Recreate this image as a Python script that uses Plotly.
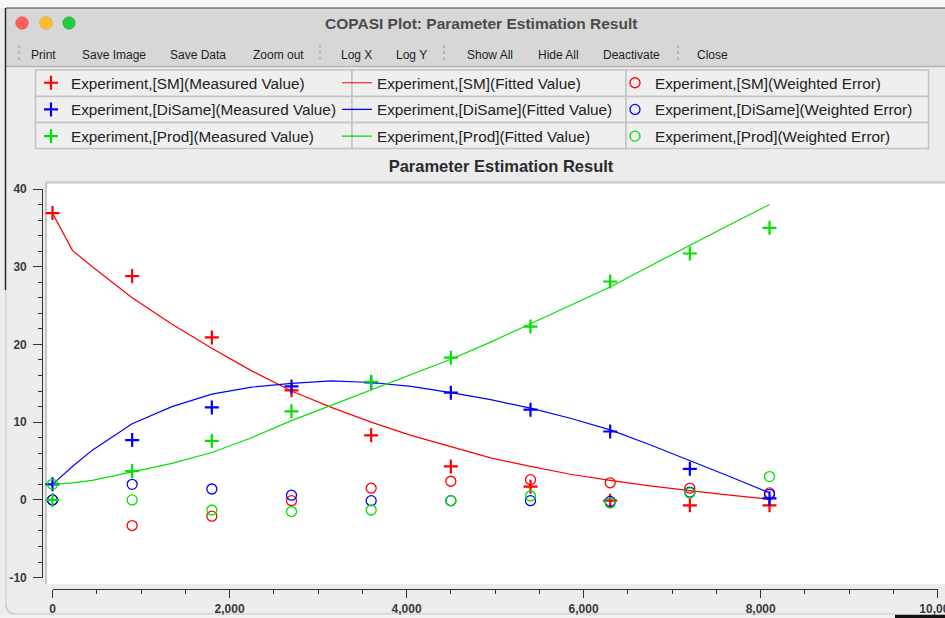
import plotly.graph_objects as go

# ---- experiment data (time in s) ----
time_points = [0, 900, 1800, 2700, 3600, 4500, 5400, 6300, 7200, 8100]

species = ["SM", "DiSame", "Prod"]
series_colors = {"SM": "rgb(255,0,0)", "DiSame": "rgb(0,0,255)", "Prod": "rgb(0,225,0)"}

measured_sm = [36.9, 28.8, 20.9, 14.1, 8.3, 4.3, 1.7, -0.1, -0.7, -0.7]
measured_disame = [2.0, 7.7, 11.9, 14.6, 15.1, 13.8, 11.6, 8.8, 4.0, 0.2]
measured_prod = [0.0, 3.7, 7.6, 11.4, 15.2, 18.3, 22.3, 28.1, 31.7, 35.0]

# simulated trajectory of the fitted model
fit_time = [0, 225, 450, 900, 1350, 1800, 2250, 2700, 3150, 3600, 4050,
            4500, 4950, 5400, 5850, 6300, 6750, 7200, 7650, 8100]
fitted_sm = [36.9, 32.1, 30.0, 26.0, 22.6, 19.5, 16.6, 14.0, 11.9, 10.0, 8.3,
             6.8, 5.4, 4.3, 3.3, 2.5, 1.8, 1.2, 0.6, 0.1]
fitted_disame = [2.0, 4.3, 6.4, 9.8, 12.0, 13.6, 14.5, 15.0, 15.3, 15.1, 14.6,
                 13.8, 12.9, 11.8, 10.5, 9.0, 7.1, 5.1, 3.0, 0.9]
fitted_prod = [2.0, 2.2, 2.5, 3.6, 4.7, 6.1, 8.0, 10.2, 12.2, 14.2, 16.1,
               18.1, 20.3, 22.7, 25.0, 27.4, 30.1, 32.8, 35.4, 38.0]

# weighted residuals
error_sm = [0.0, -3.3, -2.1, -0.1, 1.5, 2.4, 2.6, 2.2, 1.5, 0.9]
error_disame = [0.0, 2.0, 1.4, 0.6, -0.1, -0.1, -0.1, -0.2, 1.0, 0.7]
error_prod = [2.0, 0.0, -1.3, -1.5, -1.3, -0.1, 0.5, -0.4, 0.9, 3.0]

measured = {"SM": measured_sm, "DiSame": measured_disame, "Prod": measured_prod}
fitted = {"SM": fitted_sm, "DiSame": fitted_disame, "Prod": fitted_prod}
errors = {"SM": error_sm, "DiSame": error_disame, "Prod": error_prod}

y_tick_vals = [-10, 0, 10, 20, 30, 40]
y_tick_text = ["-10", "0", "10", "20", "30", "40"]

window_title = "COPASI Plot: Parameter Estimation Result"
plot_title = "Parameter Estimation Result"
toolbar_items = [("Print", 43), ("Save Image", 114), ("Save Data", 198), ("Zoom out", 278),
                 ("Log X", 356), ("Log Y", 411), ("Show All", 490), ("Hide All", 558),
                 ("Deactivate", 631), ("Close", 712)]
toolbar_separators = [19, 320, 444, 678]

W, H = 945, 618
UI_FONT = "Liberation Sans, Arial, sans-serif"


def px(x):
    return x / W


def py(y):
    return 1 - y / H


fig = go.Figure()

for sp in species:
    c = series_colors[sp]
    fig.add_trace(go.Scatter(
        x=time_points, y=measured[sp], mode="markers",
        name=f"Experiment,[{sp}](Measured Value)",
        marker=dict(symbol="cross-thin", size=10, line=dict(color=c, width=2.2), color=c),
        cliponaxis=False, legend="legend", legendgroup=f"m{sp}"))
    fig.add_trace(go.Scatter(
        x=fit_time, y=fitted[sp], mode="lines",
        name=f"Experiment,[{sp}](Fitted Value)",
        line=dict(color=c, width=1.2),
        legend="legend2", legendgroup=f"f{sp}"))
    fig.add_trace(go.Scatter(
        x=time_points, y=errors[sp], mode="markers",
        name=f"Experiment,[{sp}](Weighted Error)",
        marker=dict(symbol="circle-open", size=10, line=dict(color=c, width=1.3), color=c),
        cliponaxis=False, legend="legend3", legendgroup=f"e{sp}"))

shapes = []
# window chrome
shapes.append(dict(type="rect", xref="paper", yref="paper", x0=px(0), x1=px(W), y0=py(0), y1=py(8),
                   fillcolor="#f7f7f7", line=dict(width=0), layer="below"))
shapes.append(dict(type="rect", xref="paper", yref="paper", x0=px(6), x1=px(W), y0=py(8), y1=py(66),
                   fillcolor="#d7d7d7", line=dict(width=0), layer="below"))
shapes.append(dict(type="line", xref="paper", yref="paper", x0=px(6), x1=px(W), y0=py(66.5), y1=py(66.5),
                   line=dict(color="#b5b5b5", width=1.5), layer="below"))
shapes.append(dict(type="line", xref="paper", yref="paper", x0=px(6), x1=px(W), y0=py(8), y1=py(8),
                   line=dict(color="#3a4257", width=1), layer="below"))
shapes.append(dict(type="line", xref="paper", yref="paper", x0=px(5.5), x1=px(5.5), y0=py(8), y1=py(290),
                   line=dict(color="#2a2a2a", width=1.5), layer="below"))
shapes.append(dict(type="line", xref="paper", yref="paper", x0=px(6), x1=px(6), y0=py(290), y1=py(604),
                   line=dict(color="#c9c9c9", width=1), layer="below"))
shapes.append(dict(type="path", xref="paper", yref="paper",
                   path=f"M {px(6)},{py(604)} Q {px(6)},{py(614)} {px(16)},{py(614)} L {px(895)},{py(614)}",
                   line=dict(color="#c4c4c4", width=1.2), layer="below"))
shapes.append(dict(type="rect", xref="paper", yref="paper", x0=px(0), x1=px(895), y0=py(614.8), y1=py(618),
                   fillcolor="#f2f2f2", line=dict(width=0), layer="below"))
shapes.append(dict(type="rect", xref="paper", yref="paper", x0=px(895), x1=px(W), y0=py(614.8), y1=py(618),
                   fillcolor="#111111", line=dict(width=0), layer="below"))

# traffic-light buttons
for cx, col in [(22, "#fe5f57"), (46, "#febc2e"), (69, "#28c840")]:
    r = 6.5
    shapes.append(dict(type="circle", xref="paper", yref="paper",
                       x0=px(cx - r), x1=px(cx + r), y0=py(23 + r), y1=py(23 - r),
                       fillcolor=col, line=dict(color="rgba(0,0,0,0.15)", width=0.6), layer="below"))

for sx in toolbar_separators:
    shapes.append(dict(type="line", xref="paper", yref="paper", x0=px(sx), x1=px(sx), y0=py(45), y1=py(63),
                       line=dict(color="#9a9a9a", width=1, dash="dot"), layer="below"))

# legend cells
col_edges = [35.5, 352, 626, 928.5]
row_edges = [70, 96.5, 122.5, 148.5]
for ci in range(3):
    for ri in range(3):
        shapes.append(dict(type="rect", xref="paper", yref="paper",
                           x0=px(col_edges[ci]), x1=px(col_edges[ci + 1]),
                           y0=py(row_edges[ri + 1]), y1=py(row_edges[ri]),
                           fillcolor="#efefef", line=dict(color="#c3c3c3", width=1.5), layer="below"))

# plot canvas
shapes.append(dict(type="rect", xref="paper", yref="paper", x0=px(46), x1=px(W + 5), y0=py(584), y1=py(182),
                   fillcolor="white", line=dict(width=0), layer="below"))
shapes.append(dict(type="line", xref="paper", yref="paper", x0=px(46), x1=px(W), y0=py(182.5), y1=py(182.5),
                   line=dict(color="#c6c6c6", width=2), layer="below"))
shapes.append(dict(type="line", xref="paper", yref="paper", x0=px(46), x1=px(46), y0=py(182), y1=py(584),
                   line=dict(color="#c6c6c6", width=2), layer="below"))

annotations = [dict(text=f"<b>{window_title}</b>", x=px(481), y=py(23.5), xref="paper", yref="paper",
                    showarrow=False, xanchor="center", yanchor="middle",
                    font=dict(family=UI_FONT, size=15.5, color="#4b4b4b"))]
for label, cx in toolbar_items:
    annotations.append(dict(text=label, x=px(cx), y=py(55), xref="paper", yref="paper", showarrow=False,
                            xanchor="center", yanchor="middle",
                            font=dict(family=UI_FONT, size=12, color="#1e1e1e")))

legend_common = dict(yanchor="top", xanchor="left", bgcolor="rgba(0,0,0,0)", borderwidth=0,
                     orientation="v", tracegroupgap=3.8, itemclick=False, itemdoubleclick=False,
                     font=dict(family=UI_FONT, size=15.3, color="#222222"))

axis_font = dict(family=UI_FONT, size=12, color="#3a3a3a", weight="bold")

fig.update_layout(
    width=W, height=H, autosize=False,
    margin=dict(l=0, r=0, t=0, b=0, autoexpand=False),
    paper_bgcolor="#ececec", plot_bgcolor="white",
    showlegend=True,
    title=dict(text=plot_title, x=px(501), y=py(166), xref="paper", yref="paper",
               xanchor="center", yanchor="middle", automargin=False,
               font=dict(family=UI_FONT, size=16.5, color="#2b2b2b", weight="bold")),
    xaxis=dict(domain=[px(52.5), px(937.7)], range=[0, 10000], anchor="free", position=py(589),
               automargin=False, ticklabeloverflow="allow",
               showgrid=False, zeroline=False, showline=True, linecolor="#333333", linewidth=1.3,
               ticks="outside", ticklen=8, tickwidth=1.3, tickcolor="#333333",
               tickmode="linear", tick0=0, dtick=2000, tickformat=",d",
               minor=dict(ticks="outside", ticklen=4, tickwidth=1.3, tickcolor="#333333",
                          tickmode="linear", tick0=0, dtick=500),
               tickfont=axis_font, fixedrange=True),
    yaxis=dict(domain=[py(577.6), py(189)], range=[-10, 40], anchor="free", position=px(42.3),
               automargin=False, ticklabelstandoff=4,
               showgrid=False, zeroline=False, showline=True, linecolor="#333333", linewidth=1.3,
               ticks="outside", ticklen=9, tickwidth=1.3, tickcolor="#333333",
               tickmode="array", tickvals=y_tick_vals, ticktext=y_tick_text,
               minor=dict(ticks="outside", ticklen=4.5, tickwidth=1.3, tickcolor="#333333",
                          tickmode="linear", tick0=0, dtick=2),
               tickfont=axis_font, fixedrange=True),
    legend=dict(x=px(31), y=py(66.3), **legend_common),
    legend2=dict(x=px(337), y=py(66.3), **legend_common),
    legend3=dict(x=px(615), y=py(66.3), **legend_common),
    shapes=shapes,
    annotations=annotations,
)

fig.write_html("out.html", config={"displayModeBar": False})
